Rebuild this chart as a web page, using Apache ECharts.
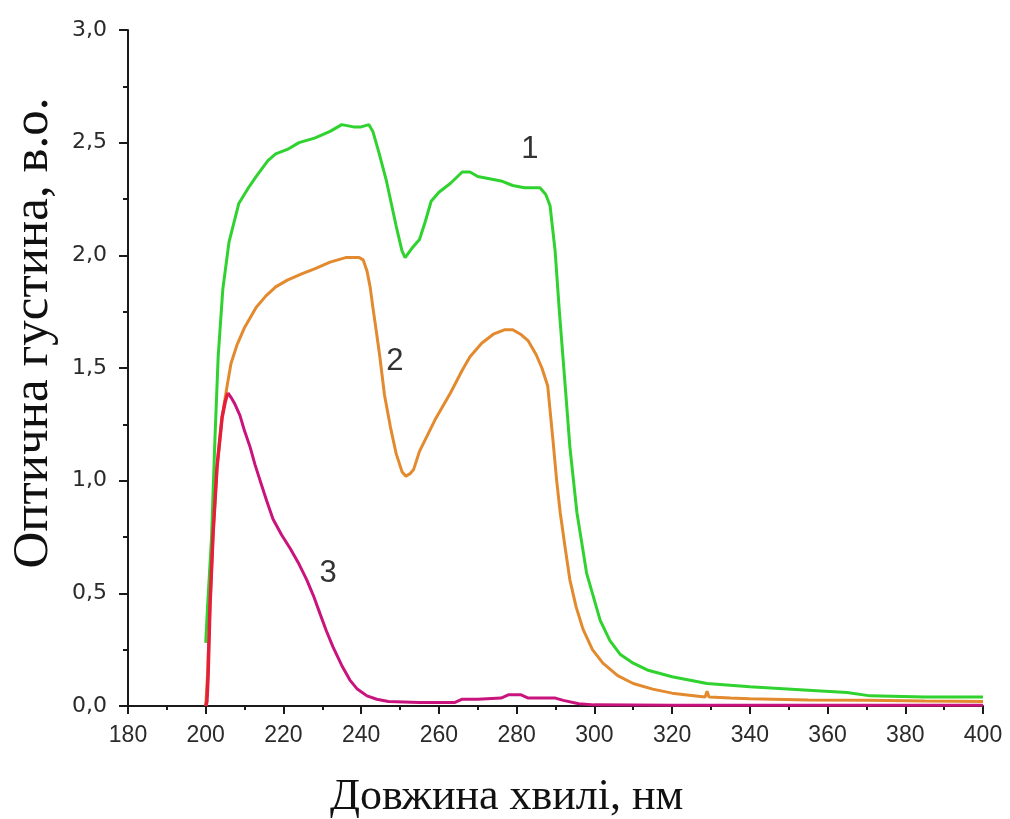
<!DOCTYPE html>
<html>
<head>
<meta charset="utf-8">
<script src="https://cdn.jsdelivr.net/npm/echarts@6/dist/echarts.min.js"></script>
<style>
html,body{margin:0;padding:0;background:#fff;}
#chart{width:1010px;height:819px;}
</style>
</head>
<body>
<div id="chart"></div>
<script>
// ---- data (wavelength, nm / optical density) ----
const curve1X = [200,200.5,201.5,202.4,203.2,204.4,206,208.5,211,213,216,218,221,224,228,232,235,238,240,242,243,244.5,246.5,249,250.5,251.3,253,255,256.5,258,260,263,266,268,270,273,276,279,282,286,287.5,288.6,289.9,291,292.5,293.7,295.5,298,301.5,304,306.6,310,313.6,320,329,340,355,365,371,385,400];
const curve1Y = [0.28,0.45,0.75,1.2,1.55,1.85,2.06,2.23,2.3,2.35,2.42,2.45,2.47,2.5,2.52,2.55,2.58,2.57,2.57,2.58,2.55,2.46,2.33,2.13,2.02,1.99,2.03,2.07,2.15,2.24,2.28,2.32,2.37,2.37,2.35,2.34,2.33,2.31,2.3,2.3,2.27,2.22,2.02,1.75,1.42,1.15,0.86,0.59,0.38,0.29,0.23,0.19,0.16,0.13,0.1,0.085,0.07,0.06,0.045,0.04,0.04];

const curve2X = [200,200.5,201.1,201.9,202.9,204.2,205.5,206.5,208,210,213,215.5,218,221,225,228,232,236,239.5,240.5,241.5,242.3,243,244,244.8,246,247.5,249,250.5,251.5,252.5,253.5,255,257,259,261,263,266,268,271,274,277,279,281,283,285,286.5,288,289.4,290.3,291.2,292.5,293.7,295.3,297.1,299.5,302.2,306,310,315,320,325,328.5,329,329.5,335,340,355,370,385,400];
const curve2Y = [0,0.15,0.45,0.77,1.06,1.28,1.42,1.52,1.6,1.68,1.77,1.82,1.86,1.89,1.92,1.94,1.97,1.99,1.99,1.98,1.93,1.86,1.77,1.65,1.55,1.38,1.24,1.12,1.04,1.02,1.03,1.05,1.13,1.2,1.27,1.33,1.39,1.49,1.55,1.61,1.65,1.67,1.67,1.65,1.62,1.56,1.5,1.42,1.17,1.0,0.86,0.7,0.56,0.44,0.34,0.25,0.19,0.135,0.1,0.075,0.057,0.047,0.04,0.065,0.04,0.035,0.032,0.027,0.025,0.022,0.02];

const curve3X = [200,200.3,200.6,201.1,201.9,202.9,204.2,205,205.7,206.5,207.5,208.8,210,211.4,212.7,214,215.7,217.3,219.5,221.7,224,226,227.7,229.4,231,232.8,235,237.1,239,241.5,244,247,255,264,266,270,276,278,281,283,290,292,296,300,320,400];
const curve3Y = [0,0.02,0.13,0.45,0.77,1.06,1.28,1.35,1.39,1.37,1.34,1.29,1.22,1.15,1.07,1.0,0.91,0.83,0.76,0.7,0.63,0.56,0.49,0.41,0.335,0.26,0.18,0.115,0.075,0.045,0.03,0.02,0.015,0.015,0.03,0.03,0.035,0.05,0.05,0.035,0.035,0.025,0.01,0.005,0.003,0.003];
const curve3PeakIndex = 8; // rising edge (red) ends at the peak

const curveLabels = ['1','2','3'];
const labelAnchorX = [283.4, 248.7, 231.5];
const labelAnchorY = [2.47, 1.53, 0.59];

const xAxisTitle = 'Довжина хвилі, нм';
const yAxisTitle = 'Оптична густина, в.о.';

const pairs = (xs, ys) => xs.map((x, i) => [x, ys[i]]);
const curve3Pairs = pairs(curve3X, curve3Y);

const chart = echarts.init(document.getElementById('chart'), null, {renderer: 'canvas'});
const axisColor = '#1a1a1a';

const option = {
  backgroundColor: '#fff',
  animation: false,
  grid: {left: 128, right: 27, top: 30, bottom: 113, containLabel: false},
  xAxis: {
    type: 'value', min: 180, max: 400, interval: 20,
    axisLine: {show: true, onZero: false, lineStyle: {color: axisColor, width: 2}},
    axisTick: {show: true, inside: false, length: 8, lineStyle: {color: axisColor, width: 2}},
    minorTick: {show: true, splitNumber: 2, length: 4, lineStyle: {color: axisColor, width: 2}},
    splitLine: {show: false},
    axisLabel: {margin: 18, color: '#2a2a2a', fontSize: 23,
      fontFamily: '"Liberation Sans", Arial, sans-serif'}
  },
  yAxis: {
    type: 'value', min: 0, max: 3, interval: 0.5,
    axisLine: {show: true, lineStyle: {color: axisColor, width: 2}},
    axisTick: {show: true, inside: false, length: 9, lineStyle: {color: axisColor, width: 2}},
    minorTick: {show: true, splitNumber: 2, length: 5, lineStyle: {color: axisColor, width: 2}},
    splitLine: {show: false},
    axisLabel: {margin: 21, color: '#2a2a2a', fontSize: 22, fontFamily: '"DejaVu Sans", sans-serif',
      formatter: v => v.toFixed(1).replace('.', ',')}
  },
  series: [
    {type: 'line', data: pairs(curve1X, curve1Y), showSymbol: false,
     lineStyle: {color: '#2fd22f', width: 3}, itemStyle: {color: '#2fd22f'}, z: 2},
    {type: 'line', data: pairs(curve2X, curve2Y), showSymbol: false,
     lineStyle: {color: '#e38a2e', width: 3}, itemStyle: {color: '#e38a2e'}, z: 3},
    {type: 'line', data: curve3Pairs.slice(curve3PeakIndex), showSymbol: false,
     lineStyle: {color: '#c8147c', width: 3}, itemStyle: {color: '#c8147c'}, z: 4},
    {type: 'line', data: curve3Pairs.slice(0, curve3PeakIndex + 1), showSymbol: false,
     lineStyle: {color: '#e2203c', width: 3.5}, itemStyle: {color: '#e2203c'}, z: 5}
  ]
};
chart.setOption(option);

const graphics = curveLabels.map((t, i) => {
  const p = chart.convertToPixel({gridIndex: 0}, [labelAnchorX[i], labelAnchorY[i]]);
  return {type: 'text', x: p[0], y: p[1], style: {text: t, fill: '#333', font: '31px "Liberation Sans", Arial, sans-serif', textAlign: 'center', textVerticalAlign: 'middle'}};
});
graphics.push({type: 'text', x: 34, y: 333, rotation: Math.PI / 2,
  style: {text: yAxisTitle, fill: '#111', font: '51px "Liberation Serif", "Times New Roman", serif', textAlign: 'center', textVerticalAlign: 'middle'}});
graphics.push({type: 'text', x: 330, y: 797,
  style: {text: xAxisTitle, fill: '#111', font: '44px "Liberation Serif", "Times New Roman", serif', textAlign: 'left', textVerticalAlign: 'middle'}});
chart.setOption({graphic: graphics});
</script>
</body>
</html>
